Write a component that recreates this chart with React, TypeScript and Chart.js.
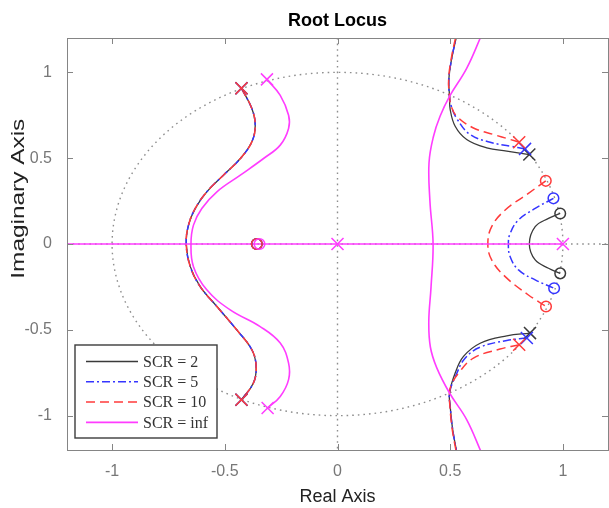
import React, { useEffect, useRef } from 'react';
import { Chart, registerables } from 'chart.js';
Chart.register(...registerables);

// ---------- data ----------
const xTickValues = [-1, -0.5, 0, 0.5, 1];
const yTickValues = [-1, -0.5, 0, 0.5, 1];
const legendLabels = ['SCR = 2', 'SCR = 5', 'SCR = 10', 'SCR = inf'];
const unitCircleRadius = 1;

// left S-shaped branch (SCR = 2, 5, 10 coincide)
const leftBranchFinite = [
  [-0.426, 0.907], [-0.38, 0.789], [-0.365, 0.692], [-0.38, 0.595], [-0.431, 0.498],
  [-0.506, 0.401], [-0.58, 0.304], [-0.631, 0.207], [-0.661, 0.11], [-0.671, 0],
  [-0.653, -0.132], [-0.609, -0.248], [-0.535, -0.364], [-0.447, -0.5], [-0.38, -0.616],
  [-0.361, -0.713], [-0.373, -0.81], [-0.426, -0.907],
];

// SCR = 2
const scr2Upper = [
  [0.851, 0.521], [0.751, 0.541], [0.662, 0.56], [0.573, 0.609], [0.522, 0.686],
  [0.5, 0.783], [0.497, 0.86], [0.494, 0.96], [0.508, 1.09], [0.53, 1.22],
];
const scr2Lower = [
  [0.854, -0.519], [0.751, -0.535], [0.633, -0.578], [0.559, -0.655], [0.522, -0.752],
  [0.497, -0.868], [0.5, -0.946], [0.511, -1.081], [0.53, -1.22],
];
const scr2ZeroArc = [
  [0.988, 0.178], [0.936, 0.149], [0.877, 0.101], [0.851, 0], [0.877, -0.093],
  [0.936, -0.141], [0.988, -0.171],
];
const scr2Poles = [[-0.426, 0.907], [-0.426, -0.907], [0.851, 0.521], [0.854, -0.519]];
const scr2Zeros = [[-0.358, 0], [0.988, 0.178], [0.988, -0.171]];

// SCR = 5
const scr5Upper = [
  [0.832, 0.554], [0.766, 0.57], [0.677, 0.593], [0.588, 0.638], [0.529, 0.731],
  [0.503, 0.81], [0.497, 0.86], [0.494, 0.96], [0.508, 1.09], [0.53, 1.22],
];
const scr5Lower = [
  [0.84, -0.548], [0.751, -0.562], [0.633, -0.601], [0.566, -0.665], [0.527, -0.76],
  [0.497, -0.868], [0.5, -0.946], [0.511, -1.081], [0.53, -1.22],
];
const scr5ZeroArc = [
  [0.958, 0.266], [0.877, 0.207], [0.803, 0.14], [0.766, 0.062], [0.758, 0],
  [0.766, -0.074], [0.803, -0.151], [0.877, -0.209], [0.961, -0.258],
];
const scr5Poles = [[-0.426, 0.907], [-0.426, -0.907], [0.832, 0.554], [0.84, -0.548]];
const scr5Zeros = [[-0.358, 0], [0.958, 0.266], [0.961, -0.258]];

// SCR = 10
const scr10Upper = [
  [0.806, 0.593], [0.766, 0.609], [0.692, 0.638], [0.603, 0.676], [0.529, 0.744],
  [0.505, 0.8], [0.497, 0.86], [0.493, 0.96], [0.506, 1.09], [0.527, 1.22],
];
const scr10Lower = [
  [0.806, -0.587], [0.721, -0.612], [0.603, -0.665], [0.537, -0.752], [0.505, -0.82],
  [0.497, -0.868], [0.499, -0.95], [0.509, -1.08], [0.528, -1.22],
];
const scr10ZeroArc = [
  [0.924, 0.368], [0.847, 0.295], [0.744, 0.198], [0.684, 0.101], [0.667, 0],
  [0.684, -0.093], [0.744, -0.19], [0.847, -0.297], [0.925, -0.364],
];
const scr10Poles = [[-0.426, 0.907], [-0.426, -0.907], [0.806, 0.593], [0.806, -0.587]];
const scr10Zeros = [[-0.358, 0], [0.924, 0.368], [0.925, -0.364]];

// SCR = inf
const scrInfLeft = [
  [-0.313, 0.959], [-0.254, 0.866], [-0.217, 0.75], [-0.217, 0.673], [-0.254, 0.576],
  [-0.328, 0.498], [-0.431, 0.401], [-0.535, 0.304], [-0.602, 0.207], [-0.639, 0.11],
  [-0.65, 0], [-0.639, -0.132], [-0.58, -0.267], [-0.476, -0.384], [-0.343, -0.481],
  [-0.254, -0.577], [-0.217, -0.694], [-0.217, -0.79], [-0.254, -0.888], [-0.31, -0.955],
];
const scrInfRight = [
  [0.64, 1.22], [0.573, 1.023], [0.497, 0.86], [0.455, 0.744], [0.426, 0.628],
  [0.406, 0.473], [0.41, 0.25], [0.424, 0], [0.415, -0.25], [0.405, -0.45],
  [0.412, -0.6], [0.44, -0.72], [0.497, -0.868], [0.573, -1.023], [0.64, -1.22],
];
const scrInfRealAxis = [[-1.25, 0], [1, 0]];
const scrInfPoles = [[-0.313, 0.959], [-0.31, -0.955], [0, 0], [1, 0]];
const scrInfZeros = [[-0.346, 0]];

// ---------- styles ----------
const BLACK = '#3a3a3a';
const BLUE = '#3535ff';
const RED = '#ff3b3b';
const MAGENTA = '#ff3cff';

const seriesStyles = [
  { color: BLACK, dash: [] as number[], width: 1.3 },
  { color: BLUE, dash: [8, 3, 2, 3], width: 1.5 },
  { color: RED, dash: [9, 5], width: 1.5 },
  { color: MAGENTA, dash: [] as number[], width: 1.6 },
];

const toPts = (arr: number[][]) => arr.map(([x, y]) => ({ x, y }));

function lineDs(label: string, data: number[][], s: number, order: number) {
  const st = seriesStyles[s];
  return {
    label,
    data: toPts(data),
    showLine: true,
    borderColor: st.color,
    borderWidth: st.width,
    borderDash: st.dash,
    pointRadius: 0,
    tension: 0.4,
    fill: false,
    order,
  };
}

function markerDs(label: string, data: number[][], s: number, style: string, order: number) {
  const st = seriesStyles[s];
  return {
    label,
    data: toPts(data),
    showLine: false,
    pointStyle: style,
    pointRadius: style === 'crossRot' ? 8.5 : 5.3,
    pointBorderWidth: 1.5,
    pointBorderColor: st.color,
    pointBackgroundColor: 'rgba(0,0,0,0)',
    borderColor: st.color,
    order,
  };
}

const Y_TITLE = 'Imaginary Axis';

const decorPlugin = {
  id: 'decor',
  beforeDatasetsDraw(chart: any) {
    const { ctx, chartArea: a, scales } = chart;
    const xs = scales.x, ys = scales.y;
    ctx.save();
    ctx.beginPath();
    ctx.rect(a.left, a.top, a.right - a.left, a.bottom - a.top);
    ctx.clip();
    ctx.strokeStyle = '#8e8e8e';
    ctx.lineWidth = 1.4;
    ctx.setLineDash([1.6, 4]);
    const x0 = xs.getPixelForValue(0), y0 = ys.getPixelForValue(0);
    ctx.beginPath(); ctx.moveTo(x0, a.top); ctx.lineTo(x0, a.bottom); ctx.stroke();
    ctx.beginPath(); ctx.moveTo(a.left, y0); ctx.lineTo(a.right, y0); ctx.stroke();
    const rx = xs.getPixelForValue(unitCircleRadius) - x0;
    const ry = y0 - ys.getPixelForValue(unitCircleRadius);
    ctx.beginPath(); ctx.ellipse(x0, y0, rx, ry, 0, 0, Math.PI * 2); ctx.stroke();
    ctx.restore();
  },
  afterDraw(chart: any) {
    const { ctx, chartArea: a, scales } = chart;
    const xs = scales.x, ys = scales.y;
    ctx.save();
    // box + inward ticks
    ctx.strokeStyle = '#858585';
    ctx.lineWidth = 1;
    ctx.setLineDash([]);
    ctx.strokeRect(Math.round(a.left) + 0.5, Math.round(a.top) + 0.5,
      Math.round(a.right - a.left), Math.round(a.bottom - a.top));
    const tl = 6;
    ctx.beginPath();
    xTickValues.forEach((v) => {
      const px = Math.round(xs.getPixelForValue(v)) + 0.5;
      ctx.moveTo(px, a.bottom); ctx.lineTo(px, a.bottom - tl);
      ctx.moveTo(px, a.top); ctx.lineTo(px, a.top + tl);
    });
    yTickValues.forEach((v) => {
      const py = Math.round(ys.getPixelForValue(v)) + 0.5;
      ctx.moveTo(a.left, py); ctx.lineTo(a.left + tl, py);
      ctx.moveTo(a.right, py); ctx.lineTo(a.right - tl, py);
    });
    ctx.stroke();

    // y-axis title (stretched along its length, as in the reference)
    ctx.save();
    ctx.font = '19px "Liberation Sans", Arial, sans-serif';
    ctx.fillStyle = '#222222';
    ctx.textAlign = 'center';
    ctx.textBaseline = 'middle';
    const tw = ctx.measureText(Y_TITLE).width;
    const targetLen = 160;
    ctx.translate(19, a.top + (a.bottom - a.top) * 0.39);
    ctx.rotate(-Math.PI / 2);
    ctx.scale(targetLen / tw, 1);
    ctx.fillText(Y_TITLE, 0, 0);
    ctx.restore();

    // legend
    const bx = a.left + 8, bw = 142, bh = 93;
    const by = a.bottom - 12 - bh;
    ctx.fillStyle = '#ffffff';
    ctx.fillRect(bx, by, bw, bh);
    ctx.strokeStyle = '#3c3c3c';
    ctx.lineWidth = 1.4;
    ctx.strokeRect(bx, by, bw, bh);
    ctx.font = '16px "Liberation Serif", "Times New Roman", serif';
    ctx.textBaseline = 'middle';
    ctx.textAlign = 'left';
    legendLabels.forEach((lab, i) => {
      const st = seriesStyles[i];
      const ry = by + 16.5 + i * 20.3;
      ctx.strokeStyle = st.color;
      ctx.lineWidth = st.width;
      ctx.setLineDash(st.dash);
      ctx.beginPath(); ctx.moveTo(bx + 11, ry); ctx.lineTo(bx + 63, ry); ctx.stroke();
      ctx.setLineDash([]);
      ctx.fillStyle = '#333333';
      ctx.fillText(lab, bx + 68, ry + 1);
    });
    ctx.restore();
  },
};

export default function App() {
  const ref = useRef<HTMLCanvasElement | null>(null);
  useEffect(() => {
    if (!ref.current) return;
    const datasets: any[] = [
      // lines: lower order = drawn on top
      lineDs(legendLabels[0], leftBranchFinite, 0, 12),
      lineDs(legendLabels[0], scr2Upper, 0, 12),
      lineDs(legendLabels[0], scr2Lower, 0, 12),
      lineDs(legendLabels[0], scr2ZeroArc, 0, 12),
      lineDs(legendLabels[1], leftBranchFinite, 1, 11),
      lineDs(legendLabels[1], scr5Upper, 1, 11),
      lineDs(legendLabels[1], scr5Lower, 1, 11),
      lineDs(legendLabels[1], scr5ZeroArc, 1, 11),
      lineDs(legendLabels[2], leftBranchFinite, 2, 10),
      lineDs(legendLabels[2], scr10Upper, 2, 10),
      lineDs(legendLabels[2], scr10Lower, 2, 10),
      lineDs(legendLabels[2], scr10ZeroArc, 2, 10),
      lineDs(legendLabels[3], scrInfLeft, 3, 9),
      lineDs(legendLabels[3], scrInfRight, 3, 9),
      lineDs(legendLabels[3], scrInfRealAxis, 3, 9),
      markerDs(legendLabels[0], scr2Poles, 0, 'crossRot', 4),
      markerDs(legendLabels[0], scr2Zeros, 0, 'circle', 4),
      markerDs(legendLabels[1], scr5Poles, 1, 'crossRot', 3),
      markerDs(legendLabels[1], scr5Zeros, 1, 'circle', 3),
      markerDs(legendLabels[2], scr10Poles, 2, 'crossRot', 2),
      markerDs(legendLabels[2], scr10Zeros, 2, 'circle', 2),
      markerDs(legendLabels[3], scrInfPoles, 3, 'crossRot', 1),
      markerDs(legendLabels[3], scrInfZeros, 3, 'circle', 1),
    ];
    const tickFont = { family: '"Liberation Sans", Arial, sans-serif', size: 16 };
    const chart = new Chart(ref.current, {
      type: 'scatter',
      data: { datasets },
      plugins: [decorPlugin],
      options: {
        animation: false,
        responsive: false,
        events: [],
        layout: { padding: { left: 0, right: 0, top: 0, bottom: 0 } },
        plugins: {
          legend: { display: false },
          tooltip: { enabled: false },
          title: {
            display: true,
            text: 'Root Locus',
            fullSize: false,
            color: '#000000',
            font: { family: '"Liberation Sans", Arial, sans-serif', size: 18, weight: 'bold', lineHeight: 1.2 },
            padding: { top: 10, bottom: 6.4 },
          },
        },
        scales: {
          x: {
            type: 'linear',
            min: -1.2,
            max: 1.2,
            grid: { display: false, drawTicks: false },
            border: { display: false },
            afterBuildTicks: (s: any) => { s.ticks = xTickValues.map((v) => ({ value: v })); },
            afterFit: (s: any) => { s.height = 58; },
            ticks: { color: '#777777', font: tickFont, padding: 12, maxRotation: 0, callback: (v: any) => String(v) },
            title: {
              display: true,
              text: 'Real Axis',
              color: '#222222',
              font: { family: '"Liberation Sans", Arial, sans-serif', size: 18, lineHeight: 1.2 },
              padding: { top: 0, bottom: 0 },
            },
          },
          y: {
            type: 'linear',
            min: -1.2,
            max: 1.2,
            grid: { display: false, drawTicks: false },
            border: { display: false },
            afterBuildTicks: (s: any) => { s.ticks = yTickValues.map((v) => ({ value: v })); },
            afterFit: (s: any) => { s.width = 67; },
            ticks: { color: '#777777', font: tickFont, padding: 15, callback: (v: any) => String(v) },
            title: { display: false },
          },
        },
      } as any,
    });
    return () => chart.destroy();
  }, []);

  return (
    <div style={{ position: 'fixed', left: 0, top: 0, width: 609, height: 508, overflow: 'hidden', background: '#fff' }}>
      <canvas ref={ref} width={618} height={508} style={{ width: 618, height: 508, display: 'block' }} />
    </div>
  );
}
